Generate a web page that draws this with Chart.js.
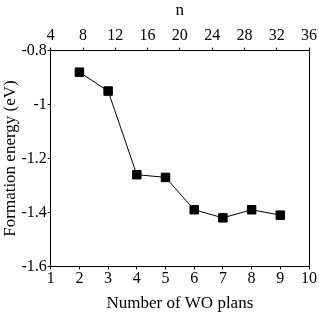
<!DOCTYPE html>
<html>
<head>
<meta charset="utf-8">
<script src="https://cdn.jsdelivr.net/npm/chart.js@4"></script>
<style>
  html, body { margin: 0; padding: 0; background: #fff; }
  #wrap { width: 319px; height: 314px; }
</style>
</head>
<body>
<div id="wrap"><canvas id="c"></canvas></div>
<script>
const planes = [2, 3, 4, 5, 6, 7, 8, 9];
const energy = [-0.88, -0.95, -1.26, -1.27, -1.39, -1.42, -1.39, -1.41];
const xTicks = [1, 2, 3, 4, 5, 6, 7, 8, 9, 10];
const nTicks = [4, 8, 12, 16, 20, 24, 28, 32, 36];
const yTicks = [-0.8, -1, -1.2, -1.4, -1.6];

const font = { family: 'Liberation Serif', size: 16 };
const titleFont = { family: 'Liberation Serif', size: 17 };

const axisGrid = {
  display: true,
  drawOnChartArea: false,
  drawTicks: true,
  tickLength: 3,
  color: '#000'
};
const axisBorder = { display: true, color: '#000', width: 1 };

// right edge of the box, no ticks there
const frame = {
  id: 'frame',
  afterDraw(chart) {
    const a = chart.chartArea, ctx = chart.ctx;
    ctx.save();
    ctx.strokeStyle = '#000';
    ctx.lineWidth = 1;
    ctx.beginPath();
    ctx.moveTo(a.right + 0.5, a.top);
    ctx.lineTo(a.right + 0.5, a.bottom);
    ctx.stroke();
    ctx.restore();
  }
};

new Chart(document.getElementById('c').getContext('2d'), {
  type: 'line',
  data: {
    datasets: [{
      data: planes.map((p, i) => ({ x: p, y: energy[i] })),
      borderColor: '#000',
      borderWidth: 1,
      backgroundColor: '#000',
      pointStyle: 'rect',
      pointRadius: 6,
      pointHoverRadius: 6,
      fill: false,
      xAxisID: 'x',
      yAxisID: 'y'
    }]
  },
  options: {
    responsive: true,
    maintainAspectRatio: false,
    animation: false,
    layout: { padding: { left: 0, right: 8, top: 0, bottom: 0 } },
    plugins: { legend: { display: false }, tooltip: { enabled: false } },
    scales: {
      x: {
        type: 'linear',
        position: 'bottom',
        min: 1, max: 10,
        afterBuildTicks: s => { s.ticks = xTicks.map(v => ({ value: v })); },
        ticks: { font, color: '#000', padding: 0, maxRotation: 0 },
        grid: axisGrid,
        border: axisBorder,
        title: { display: true, text: 'Number of WO plans', font: titleFont, color: '#000', padding: { top: 5, bottom: 0 } }
      },
      x2: {
        type: 'linear',
        position: 'top',
        min: 4, max: 36,
        afterBuildTicks: s => { s.ticks = nTicks.map(v => ({ value: v })); },
        ticks: { font, color: '#000', padding: 2, maxRotation: 0 },
        grid: axisGrid,
        border: axisBorder,
        title: { display: true, text: 'n', font: titleFont, color: '#000', padding: { top: 0, bottom: 4 } }
      },
      y: {
        type: 'linear',
        min: -1.6, max: -0.8,
        afterBuildTicks: s => { s.ticks = yTicks.map(v => ({ value: v })); },
        ticks: { font, color: '#000', padding: 1, callback: v => String(Math.round(v * 10) / 10) },
        grid: axisGrid,
        border: axisBorder,
        title: { display: true, text: 'Formation energy (eV)', font: titleFont, color: '#000', padding: { top: 0, bottom: 0 } }
      }
    }
  },
  plugins: [frame]
});
</script>
</body>
</html>
